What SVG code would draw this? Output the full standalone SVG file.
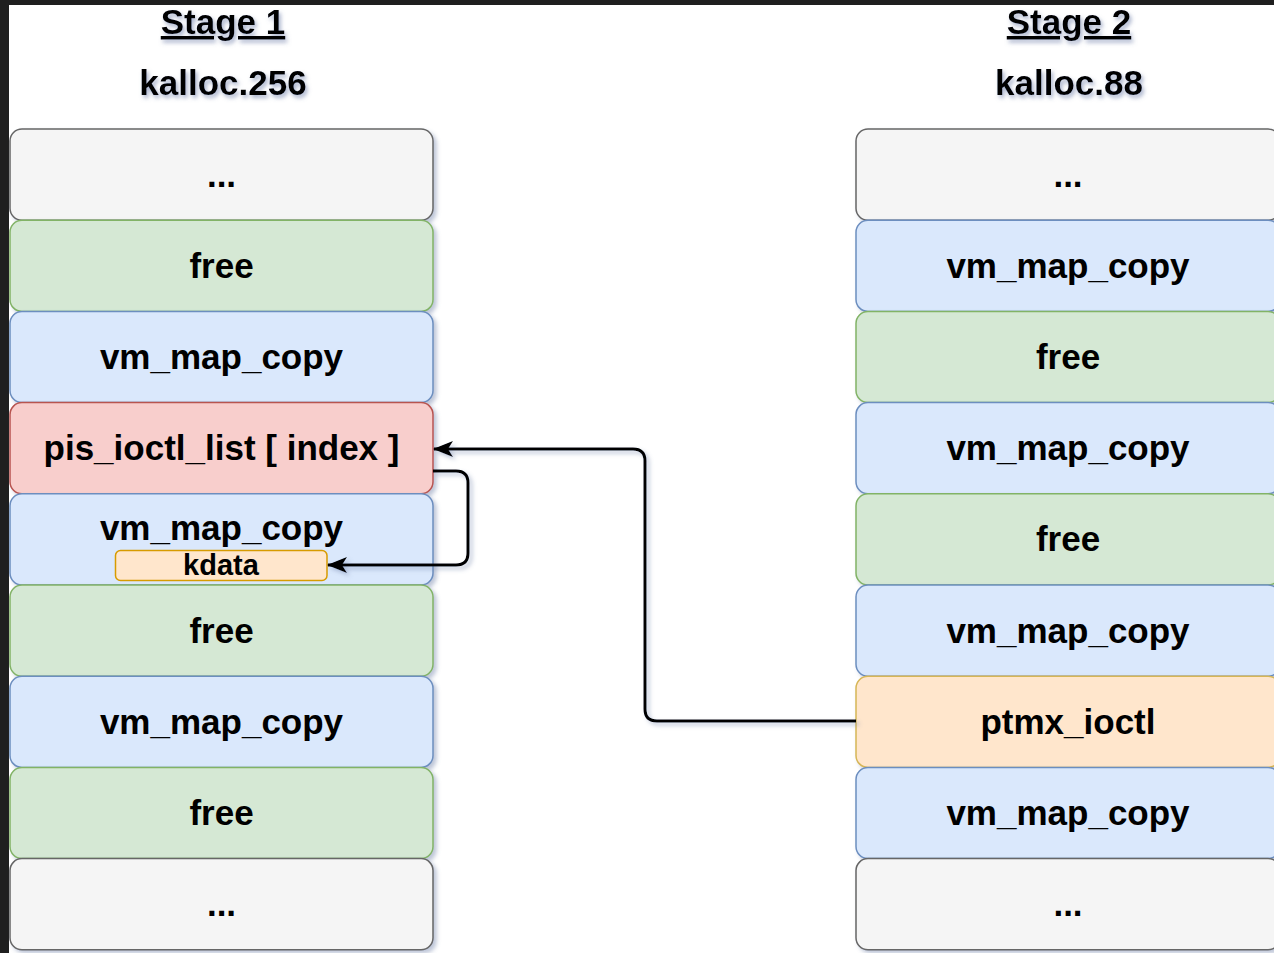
<svg xmlns="http://www.w3.org/2000/svg" width="1274" height="953" viewBox="0 0 1274 953">
<defs>
<filter id="sh" x="-10%" y="-10%" width="120%" height="130%">
<feDropShadow dx="3" dy="3" stdDeviation="2" flood-color="#7080a8" flood-opacity="0.45"/>
</filter>
<filter id="tsh" x="-10%" y="-20%" width="120%" height="150%">
<feDropShadow dx="2" dy="3" stdDeviation="2" flood-color="#6070a0" flood-opacity="0.55"/>
</filter>
<marker id="arr" viewBox="0 0 20 16" refX="19" refY="8" markerWidth="20" markerHeight="16" markerUnits="userSpaceOnUse" orient="auto">
<path d="M0,0 L20,8 L0,16 L5,8 Z" fill="#000"/>
</marker>
<style>
text{font-family:"Liberation Sans",Arial,sans-serif;font-weight:bold;fill:#000;text-anchor:middle}
.lbl{font-size:35px}
.ttl{font-size:35px}
.box{stroke-width:1.5;filter:url(#sh)}
.g{fill:#f5f5f5;stroke:#666666}
.gr{fill:#d5e8d4;stroke:#82b366}
.bl{fill:#dae8fc;stroke:#6c8ebf}
.rd{fill:#f8cecc;stroke:#b85450}
.or{fill:#ffe6cc;stroke:#d79b00}
.yl{fill:#ffe6cc;stroke:#d6b656}
.conn{fill:none;stroke:#000;stroke-width:3;filter:url(#sh)}
</style>
</defs>
<rect x="0" y="0" width="1274" height="953" fill="#1f1f1f"/>
<rect x="9" y="5" width="1265" height="948" fill="#ffffff"/>

<g id="titles" filter="url(#tsh)">
<text class="ttl" x="223" y="34" text-decoration="underline">Stage 1</text>
<text class="ttl" x="223" y="95">kalloc.256</text>
<text class="ttl" x="1069" y="34" text-decoration="underline">Stage 2</text>
<text class="ttl" x="1069" y="95">kalloc.88</text>
</g>

<g id="L1"><rect class="box g" x="10" y="129" width="423" height="91.2" rx="12"/><text class="lbl" x="221.5" y="187">...</text></g>
<g id="L2"><rect class="box gr" x="10" y="220.2" width="423" height="91.2" rx="12"/><text class="lbl" x="221.5" y="278">free</text></g>
<g id="L3"><rect class="box bl" x="10" y="311.4" width="423" height="91.2" rx="12"/><text class="lbl" x="221.5" y="369">vm_map_copy</text></g>
<g id="L4"><rect class="box rd" x="10" y="402.6" width="423" height="91.2" rx="12"/><text class="lbl" x="221.5" y="460">pis_ioctl_list [ index ]</text></g>
<g id="L5"><rect class="box bl" x="10" y="493.8" width="423" height="91.2" rx="12"/><text class="lbl" x="221.5" y="540">vm_map_copy</text>
<g id="kdata"><rect class="or" x="115.5" y="550.5" width="211.5" height="30" rx="5" stroke-width="1.5"/><text x="221" y="575" style="font-size:29px">kdata</text></g></g>
<g id="L6"><rect class="box gr" x="10" y="585" width="423" height="91.2" rx="12"/><text class="lbl" x="221.5" y="643">free</text></g>
<g id="L7"><rect class="box bl" x="10" y="676.2" width="423" height="91.2" rx="12"/><text class="lbl" x="221.5" y="734">vm_map_copy</text></g>
<g id="L8"><rect class="box gr" x="10" y="767.4" width="423" height="91.2" rx="12"/><text class="lbl" x="221.5" y="825">free</text></g>
<g id="L9"><rect class="box g" x="10" y="858.6" width="423" height="91.2" rx="12"/><text class="lbl" x="221.5" y="916">...</text></g>

<g id="R1"><rect class="box g" x="856" y="129" width="424" height="91.2" rx="12"/><text class="lbl" x="1068" y="187">...</text></g>
<g id="R2"><rect class="box bl" x="856" y="220.2" width="424" height="91.2" rx="12"/><text class="lbl" x="1068" y="278">vm_map_copy</text></g>
<g id="R3"><rect class="box gr" x="856" y="311.4" width="424" height="91.2" rx="12"/><text class="lbl" x="1068" y="369">free</text></g>
<g id="R4"><rect class="box bl" x="856" y="402.6" width="424" height="91.2" rx="12"/><text class="lbl" x="1068" y="460">vm_map_copy</text></g>
<g id="R5"><rect class="box gr" x="856" y="493.8" width="424" height="91.2" rx="12"/><text class="lbl" x="1068" y="551">free</text></g>
<g id="R6"><rect class="box bl" x="856" y="585" width="424" height="91.2" rx="12"/><text class="lbl" x="1068" y="643">vm_map_copy</text></g>
<g id="R7"><rect class="box yl" x="856" y="676.2" width="424" height="91.2" rx="12"/><text class="lbl" x="1068" y="734">ptmx_ioctl</text></g>
<g id="R8"><rect class="box bl" x="856" y="767.4" width="424" height="91.2" rx="12"/><text class="lbl" x="1068" y="825">vm_map_copy</text></g>
<g id="R9"><rect class="box g" x="856" y="858.6" width="424" height="91.2" rx="12"/><text class="lbl" x="1068" y="916">...</text></g>

<g id="connectors">
<path class="conn" d="M856,721 L657,721 Q645,721 645,709 L645,461 Q645,449 633,449 L434,449" marker-end="url(#arr)"/>
<path class="conn" d="M433,471 L456,471 Q468,471 468,483 L468,553 Q468,565 456,565 L328,565" marker-end="url(#arr)"/>
</g>
</svg>
